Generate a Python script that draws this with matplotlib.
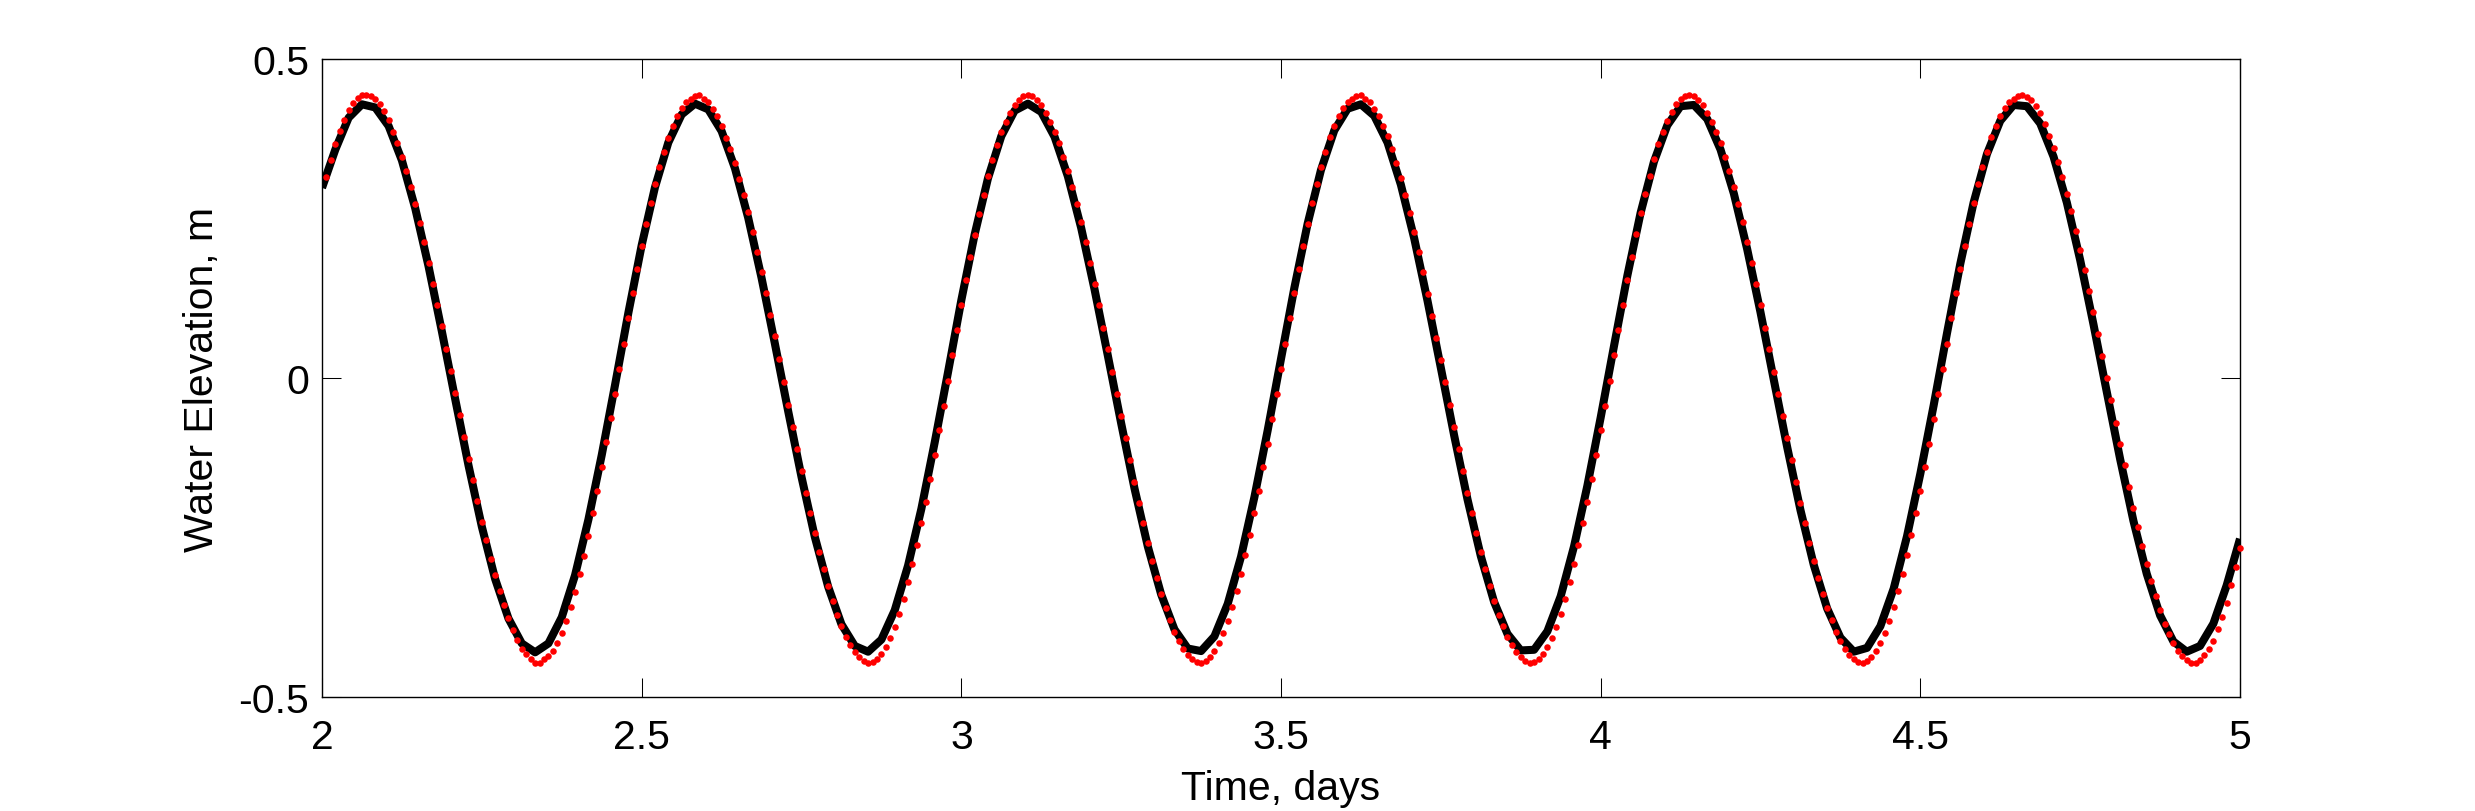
import numpy as np
import matplotlib
matplotlib.use("Agg")
import matplotlib.pyplot as plt

# ---------------- data ----------------
t_start = 2.0                 # days
obs_step_days = 1.0 / 144.0   # observed series: one point every 10 min
model_step_days = 1.0 / 48.0  # model series: one point every 30 min

# observed water elevation (red dots), m, starting at t = 2 + 10 min
obs_elev = [
    0.315, 0.342, 0.366, 0.387, 0.405, 0.420, 0.431, 0.439, 0.443, 0.444,
    0.442, 0.437, 0.430, 0.418, 0.404, 0.386, 0.368, 0.347, 0.324, 0.299,
    0.272, 0.243, 0.213, 0.181, 0.148, 0.115, 0.081, 0.046, 0.011, -0.024,
    -0.058, -0.093, -0.127, -0.160, -0.193, -0.225, -0.254, -0.283, -0.309, -0.334,
    -0.356, -0.376, -0.395, -0.410, -0.424, -0.433, -0.440, -0.446,
    -0.446, -0.440, -0.435, -0.428, -0.416, -0.400, -0.381, -0.359, -0.336, -0.307,
    -0.279, -0.247, -0.212, -0.177, -0.140, -0.101, -0.063, -0.025, 0.014, 0.054,
    0.094, 0.133, 0.171, 0.207, 0.241, 0.274, 0.304, 0.330, 0.354, 0.376,
    0.395, 0.410, 0.423, 0.432, 0.438, 0.442,
    0.443, 0.438, 0.432, 0.422, 0.410, 0.395, 0.376, 0.359, 0.337, 0.312,
    0.287, 0.260, 0.229, 0.197, 0.166, 0.133, 0.099, 0.066, 0.030, -0.006,
    -0.042, -0.077, -0.112, -0.146, -0.180, -0.212, -0.243, -0.273, -0.300, -0.326,
    -0.349, -0.371, -0.389, -0.406, -0.419, -0.430, -0.438, -0.443, -0.446,
    -0.445, -0.440, -0.433, -0.422, -0.407, -0.390, -0.370, -0.346, -0.320, -0.292,
    -0.261, -0.228, -0.194, -0.158, -0.121, -0.082, -0.044, -0.005, 0.036, 0.076,
    0.115, 0.153, 0.189, 0.224, 0.257, 0.287, 0.316, 0.342, 0.365, 0.385,
    0.402, 0.416, 0.428, 0.436, 0.442,
    0.443, 0.442, 0.436, 0.428, 0.416, 0.402, 0.386, 0.368, 0.347, 0.325,
    0.299, 0.272, 0.244, 0.213, 0.181, 0.148, 0.114, 0.079, 0.045, 0.010,
    -0.025, -0.060, -0.094, -0.129, -0.163, -0.196, -0.228, -0.258, -0.287, -0.314,
    -0.338, -0.360, -0.380, -0.398, -0.413, -0.425, -0.434, -0.441, -0.445,
    -0.446, -0.443, -0.437, -0.428, -0.415, -0.400, -0.381, -0.359, -0.334, -0.307,
    -0.277, -0.246, -0.212, -0.177, -0.140, -0.103, -0.064, -0.025, 0.014, 0.054,
    0.094, 0.133, 0.171, 0.207, 0.241, 0.274, 0.304, 0.331, 0.355, 0.378,
    0.395, 0.410, 0.423, 0.432, 0.438, 0.442,
    0.443, 0.438, 0.432, 0.422, 0.410, 0.395, 0.379, 0.359, 0.337, 0.313,
    0.287, 0.259, 0.229, 0.198, 0.166, 0.132, 0.097, 0.063, 0.028, -0.007,
    -0.042, -0.077, -0.112, -0.146, -0.180, -0.212, -0.243, -0.273, -0.300, -0.326,
    -0.349, -0.371, -0.389, -0.406, -0.419, -0.430, -0.438, -0.443, -0.446,
    -0.445, -0.440, -0.433, -0.422, -0.407, -0.390, -0.370, -0.346, -0.320, -0.292,
    -0.261, -0.228, -0.194, -0.158, -0.121, -0.082, -0.044, -0.005, 0.036, 0.076,
    0.115, 0.153, 0.190, 0.225, 0.258, 0.288, 0.317, 0.343, 0.366, 0.386,
    0.403, 0.417, 0.429, 0.437, 0.442,
    0.443, 0.442, 0.436, 0.428, 0.416, 0.402, 0.386, 0.368, 0.347, 0.325,
    0.299, 0.272, 0.244, 0.213, 0.181, 0.148, 0.114, 0.079, 0.045, 0.010,
    -0.025, -0.060, -0.094, -0.129, -0.163, -0.196, -0.228, -0.258, -0.287, -0.314,
    -0.338, -0.360, -0.380, -0.398, -0.413, -0.425, -0.434, -0.441, -0.445,
    -0.446, -0.443, -0.437, -0.428, -0.415, -0.400, -0.381, -0.359, -0.334, -0.307,
    -0.277, -0.246, -0.212, -0.177, -0.140, -0.103, -0.064, -0.025, 0.014, 0.054,
    0.094, 0.133, 0.171, 0.207, 0.241, 0.274, 0.304, 0.331, 0.355, 0.378,
    0.395, 0.410, 0.423, 0.432, 0.438, 0.442,
    0.443, 0.440, 0.435, 0.427, 0.415, 0.398, 0.379, 0.360, 0.338, 0.315,
    0.288, 0.261, 0.231, 0.200, 0.169, 0.136, 0.103, 0.069, 0.034, 0.000,
    -0.035, -0.071, -0.104, -0.137, -0.171, -0.204, -0.234, -0.263, -0.292, -0.318,
    -0.342, -0.364, -0.385, -0.401, -0.415, -0.428, -0.436, -0.442, -0.446,
    -0.446, -0.442, -0.434, -0.424, -0.412, -0.393, -0.374, -0.352, -0.324, -0.297,
    -0.266,
]

# modelled water elevation (black line), m, starting at t = 2
model_elev = [
    0.298, 0.358, 0.408, 0.429,
    0.424, 0.395, 0.341, 0.266, 0.175, 0.073, -0.033, -0.137, -0.233, -0.315, -0.377, -0.416, -0.430,
    -0.416, -0.375, -0.309, -0.222, -0.121, -0.011, 0.102, 0.208, 0.299, 0.369, 0.413, 0.430,
    0.421, 0.387, 0.329, 0.251, 0.157, 0.054, -0.052, -0.155, -0.249, -0.327, -0.386, -0.420,
    -0.429, -0.410, -0.364, -0.294, -0.205, -0.101, 0.009, 0.122, 0.225, 0.313, 0.379, 0.419,
    0.430, 0.417, 0.378, 0.316, 0.235, 0.139, 0.035, -0.071, -0.173, -0.264, -0.339, -0.394, -0.424,
    -0.428, -0.405, -0.354, -0.280, -0.187, -0.082, 0.030, 0.141, 0.242, 0.326, 0.388, 0.422,
    0.429, 0.411, 0.369, 0.303, 0.219, 0.121, 0.016, -0.090, -0.190, -0.279, -0.351, -0.401, -0.427,
    -0.426, -0.397, -0.342, -0.264, -0.169, -0.062, 0.050, 0.160, 0.259, 0.339, 0.396, 0.426,
    0.428, 0.406, 0.358, 0.289, 0.202, 0.103, -0.003, -0.108, -0.207, -0.293, -0.361, -0.407, -0.429,
    -0.423, -0.389, -0.330, -0.248, -0.150, -0.043, 0.070, 0.179, 0.275, 0.351, 0.403, 0.428,
    0.426, 0.399, 0.347, 0.275, 0.185, 0.084, -0.022, -0.127, -0.224, -0.307, -0.372, -0.413, -0.429,
    -0.420, -0.385, -0.325, -0.252,
]

x_ticks = [2, 2.5, 3, 3.5, 4, 4.5, 5]
x_tick_labels = ["2", "2.5", "3", "3.5", "4", "4.5", "5"]
y_ticks = [-0.5, 0, 0.5]
y_tick_labels = ["-0.5", "0", "0.5"]
x_label = "Time, days"
y_label = "Water Elevation, m"

assert len(obs_elev) == 432, len(obs_elev)
assert len(model_elev) == 145, len(model_elev)

obs_time = t_start + obs_step_days * np.arange(1, len(obs_elev) + 1)
model_time = t_start + model_step_days * np.arange(len(model_elev))

# ---------------- figure ----------------
plt.rcParams['font.family'] = ['Liberation Sans', 'DejaVu Sans']
plt.rcParams['axes.unicode_minus'] = False

W, H = 2475, 812
fig = plt.figure(figsize=(W / 100, H / 100), dpi=100)
fig.patch.set_facecolor('white')
ax = fig.add_axes([322 / W, 114 / H, 1918 / W, 638 / H])

ax.plot(model_time, model_elev, color='black', linewidth=5.8,
        solid_joinstyle='round', solid_capstyle='butt', zorder=2)
ax.plot(obs_time, obs_elev, linestyle='none', marker='o', markersize=4.7,
        markerfacecolor='#ff0000', markeredgewidth=0, clip_on=False, zorder=3)

ax.set_xlim(2, 5)
ax.set_ylim(-0.5, 0.5)
ax.set_xticks(x_ticks)
ax.set_xticklabels(x_tick_labels)
ax.set_yticks(y_ticks)
ax.set_yticklabels(y_tick_labels)

ax.tick_params(direction='in', length=13.7, width=0.75, top=True, right=True,
               labelsize=29.5, colors='black')
ax.tick_params(axis='x', pad=15.4)
ax.tick_params(axis='y', pad=9.4)
for s in ax.spines.values():
    s.set_linewidth(1.0)
    s.set_color('black')

ax.set_xlabel(x_label, fontsize=29.5)
ax.set_ylabel(y_label, fontsize=29.5)
ax.xaxis.set_label_coords(0.5, -0.113)
ax.yaxis.set_label_coords(-0.0529, 0.5)

fig.savefig('out.png', dpi=100, facecolor='white')
